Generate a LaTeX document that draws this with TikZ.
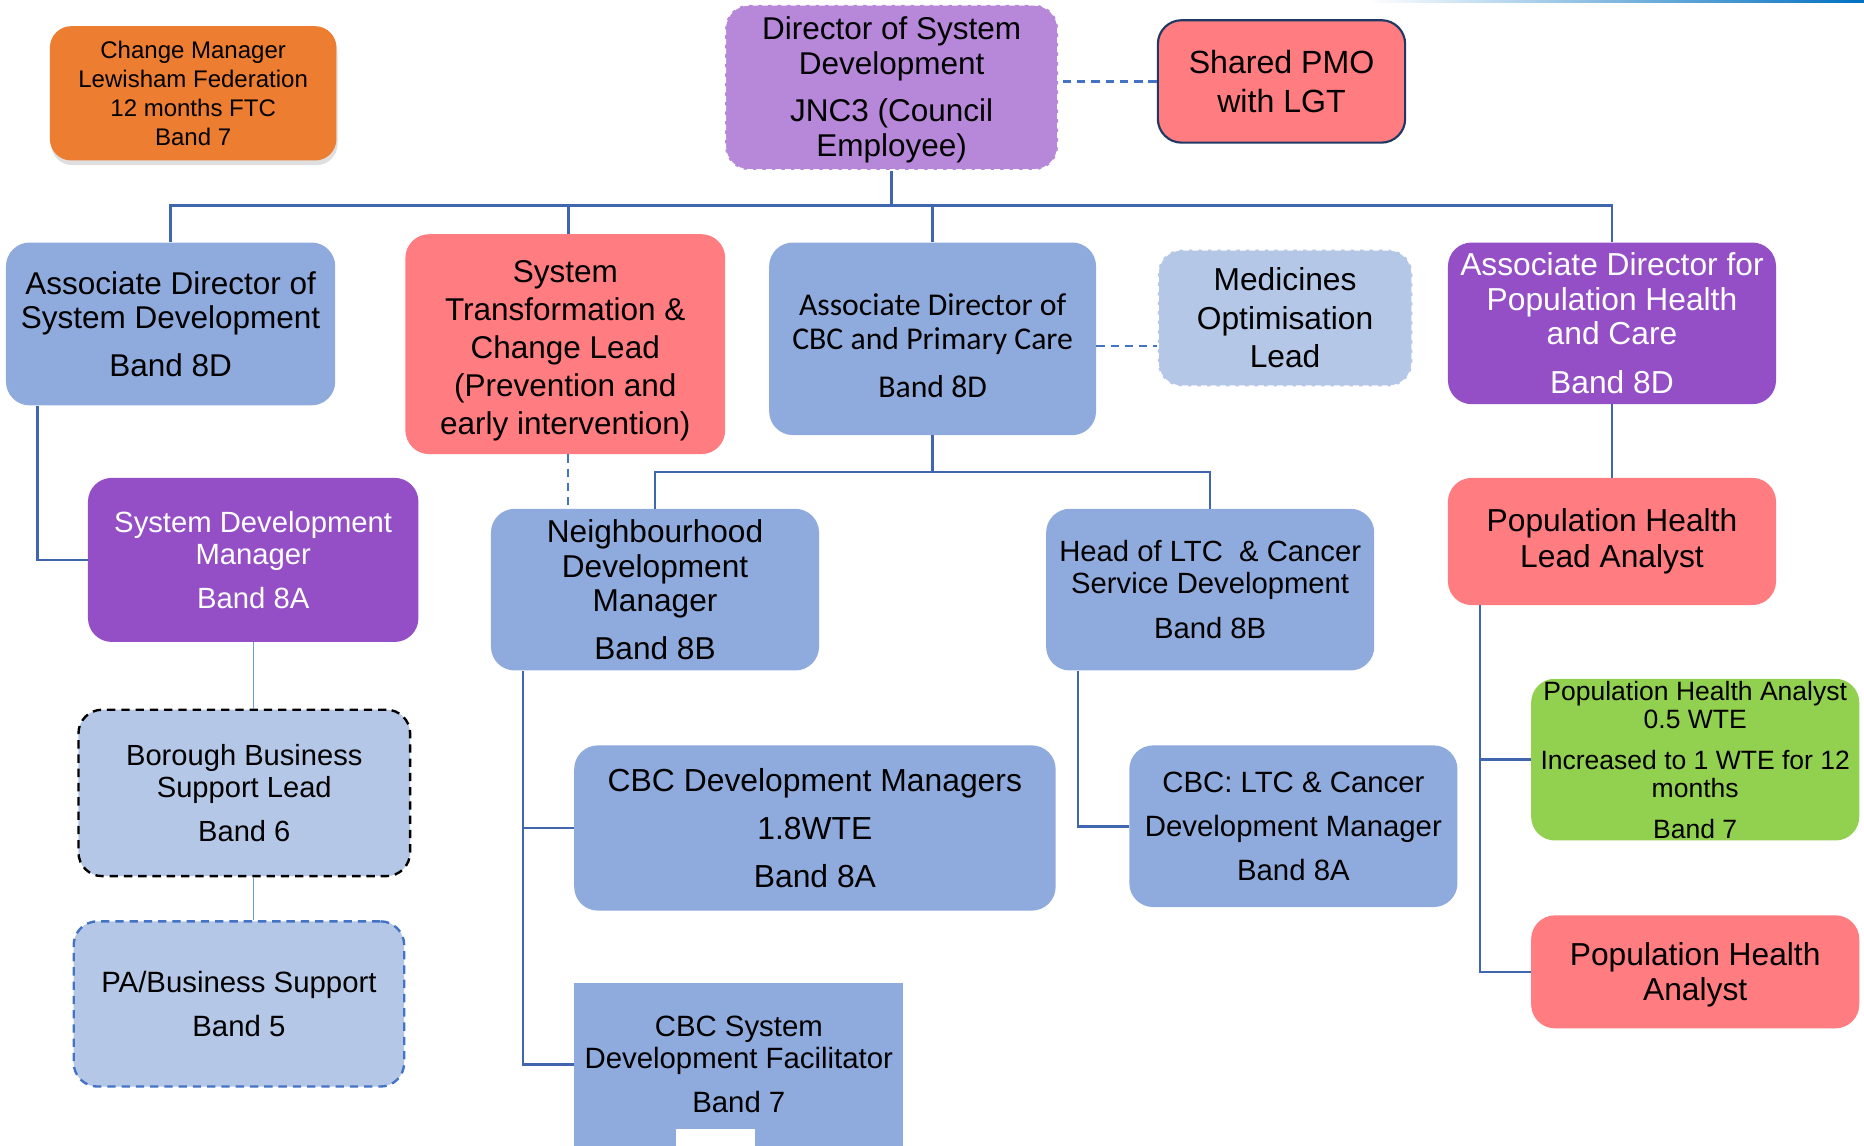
\documentclass[tikz,border=0pt]{standalone}
\usepackage{fontspec}
\setmainfont{Liberation Sans}
\newfontfamily\calfont{Carlito}
\usetikzlibrary{shadows}
\definecolor{bluebox}{HTML}{8FAADC}
\definecolor{lightbox}{HTML}{B4C7E7}
\definecolor{pinkbox}{HTML}{FF7C80}
\definecolor{purplebox}{HTML}{954FC6}
\definecolor{dirpurple}{HTML}{B788DA}
\definecolor{orangebox}{HTML}{ED7D31}
\definecolor{greenbox}{HTML}{92D050}
\definecolor{navyline}{HTML}{1F3864}
\definecolor{lineblue}{HTML}{3F66AE}
\definecolor{dashblue}{HTML}{4472C4}
\definecolor{thinblue}{HTML}{6C9AE3}
\definecolor{topblue}{HTML}{0070C0}
\newcommand\fsz[2]{\fontsize{#1pt}{#2pt}\selectfont}
\begin{document}
\begin{tikzpicture}[x=1pt,y=-1pt,
  box/.style={rounded corners=20pt, inner sep=0pt, align=center, text=black},
  conn/.style={draw=lineblue, line width=2.2pt},
  dconn/.style={draw=dashblue, line width=2pt, dash pattern=on 7pt off 5pt},
  thinconn/.style={draw=thinblue, line width=1pt}]
\useasboundingbox (0,0) rectangle (1568,964);
\fill[white] (0,0) rectangle (1568,964);
\shade[left color=white, right color=topblue] (1150,0) rectangle (1568,1.8);

% nodes
\node[box, fill=orangebox, minimum width=241pt, minimum height=113pt, rounded corners=18pt,
  font=\fsz{20.2}{24.5},
  drop shadow={shadow xshift=1pt, shadow yshift=-4pt, opacity=0.25}]
  (cm) at (162.5,78.5) {Change Manager\\Lewisham Federation\\12 months FTC\\Band 7};

\node[box, fill=dirpurple, draw=white, line width=1.5pt, dash pattern=on 5pt off 3pt,
  minimum width=280pt, minimum height=139pt, font=\fsz{26.5}{29.5}]
  (dir) at (750,73.5) {\rule{0pt}{24pt}Director of System\\Development\\[10pt]JNC3 (Council\\Employee)};

\node[box, fill=pinkbox, draw=navyline, line width=1.8pt,
  minimum width=208pt, minimum height=103pt, font=\fsz{27}{33}]
  (pmo) at (1078,68.5) {Shared PMO\\with LGT};

\node[box, fill=bluebox, minimum width=277pt, minimum height=137pt, font=\fsz{26.5}{29}]
  (adsd) at (143.5,272.5) {Associate Director of\\System Development\\[11pt]Band 8D};

\node[box, fill=pinkbox, minimum width=269pt, minimum height=185pt, font=\fsz{26.5}{32}]
  (stc) at (475.5,289.5) {\rule{0pt}{29.5pt}System\\Transformation \&\\Change Lead\\(Prevention and\\early intervention)};

\node[box, fill=bluebox, minimum width=275pt, minimum height=162pt, font={\calfont\fsz{26.7}{29}}]
  (adcbc) at (784.5,285) {\rule{0pt}{29.5pt}Associate Director of\\CBC and Primary Care\\[11pt]Band 8D};

\node[box, fill=lightbox, draw=white, line width=1.5pt, dash pattern=on 5pt off 3pt,
  minimum width=214pt, minimum height=115pt, font=\fsz{26.7}{32.5}]
  (med) at (1081,267.5) {Medicines\\Optimisation\\Lead};

\node[box, fill=purplebox, text=white, minimum width=276pt, minimum height=136pt, font=\fsz{26.7}{29}]
  (adph) at (1356,272) {Associate Director for\\Population Health\\and Care\\[12pt]Band 8D};

\node[box, fill=purplebox, text=white, minimum width=278pt, minimum height=138pt, font=\fsz{24.6}{27}]
  (sdm) at (213,471) {System Development\\Manager\\[10pt]Band 8A};

\node[box, fill=bluebox, minimum width=276pt, minimum height=136pt, font=\fsz{26.6}{29}]
  (ndm) at (551,496) {Neighbourhood\\Development\\Manager\\[11pt]Band 8B};

\node[box, fill=bluebox, minimum width=276pt, minimum height=136pt, font=\fsz{24.6}{26.5}]
  (hltc) at (1018,496) {Head of LTC\ \ \& Cancer\\Service Development\\[11.5pt]Band 8B};

\node[box, fill=pinkbox, minimum width=276pt, minimum height=107pt, font=\fsz{26.7}{30}]
  (phla) at (1356,455.5) {Population Health\\Lead Analyst};

\node[box, fill=lightbox, draw=black, line width=2pt, dash pattern=on 7pt off 5pt,
  minimum width=279pt, minimum height=140pt, font=\fsz{24.5}{27}]
  (bbsl) at (205.5,667) {Borough Business\\Support Lead\\[10pt]Band 6};

\node[box, fill=lightbox, draw=dashblue, line width=2pt, dash pattern=on 7pt off 5pt,
  minimum width=278pt, minimum height=139pt, font=\fsz{24.7}{27}]
  (pa) at (201,844.5) {PA/Business Support\\[10pt]Band 5};

\node[box, fill=bluebox, minimum width=405pt, minimum height=139pt, font=\fsz{26.8}{30}]
  (cbcdm) at (685.5,696.5) {CBC Development Managers\\[10.5pt]1.8WTE\\[10.5pt]Band 8A};

\node[box, fill=bluebox, minimum width=276pt, minimum height=136pt, font=\fsz{24.7}{27}]
  (cbcltc) at (1088,695) {CBC: LTC \& Cancer\\[10pt]Development Manager\\[10pt]Band 8A};

\node[box, fill=greenbox, minimum width=276pt, minimum height=136pt, font=\fsz{22.3}{24}]
  (pha05) at (1426,639) {Population Health Analyst\\0.5 WTE\\[10pt]Increased to 1 WTE for 12\\months\\[10pt]Band 7};

\node[box, fill=pinkbox, minimum width=276pt, minimum height=95pt, font=\fsz{26.7}{29.5}]
  (pha) at (1426,817.5) {\rule{0pt}{25pt}Population Health\\Analyst};

\node[box, rounded corners=0pt, fill=bluebox, minimum width=277pt, minimum height=137pt, font=\fsz{24.7}{27}]
  (cbcsdf) at (621.5,895.5) {CBC System\\Development Facilitator\\[10pt]Band 7};
\fill[white] (569,950) rectangle (635,964);

% connectors
\coordinate (bus) at (750,173);
\draw[conn] (dir.south) -- (bus);
\draw[conn] (adsd.north) |- (bus) -| (adph.north);
\draw[conn] (stc.north -| 478,0) -- (bus -| 478,0);
\draw[conn] (adcbc.north) -- (adcbc.north |- bus);
\draw[dconn] (pmo.west) -- (pmo.west -| dir.east);
\draw[dconn] (adcbc.east |- 0,291) -- (med.west |- 0,291);

\draw[conn] ([xshift=27pt]adsd.south west) |- (sdm.west);
\draw[thinconn] (sdm.south) -- (sdm.south |- bbsl.north);
\draw[thinconn] (bbsl.south -| sdm.south) -- (pa.north -| sdm.south);

\draw[dconn] (stc.south -| 478,0) -- (ndm.north -| 478,0);

\coordinate (cbcbus) at (adcbc.south |- 0,397);
\draw[conn] (adcbc.south) -- (cbcbus);
\draw[conn] (ndm.north) |- (cbcbus) -| (hltc.north);

\draw[conn] ([xshift=27pt]ndm.south west) |- (cbcdm.west);
\draw[conn] ([xshift=27pt]ndm.south west) |- (cbcsdf.west);
\draw[conn] ([xshift=27pt]hltc.south west) |- (cbcltc.west);

\draw[conn] (adph.south) -- (phla.north);
\draw[conn] ([xshift=27pt]phla.south west) |- (pha05.west);
\draw[conn] ([xshift=27pt]phla.south west) |- (pha.west);
\end{tikzpicture}
\end{document}
